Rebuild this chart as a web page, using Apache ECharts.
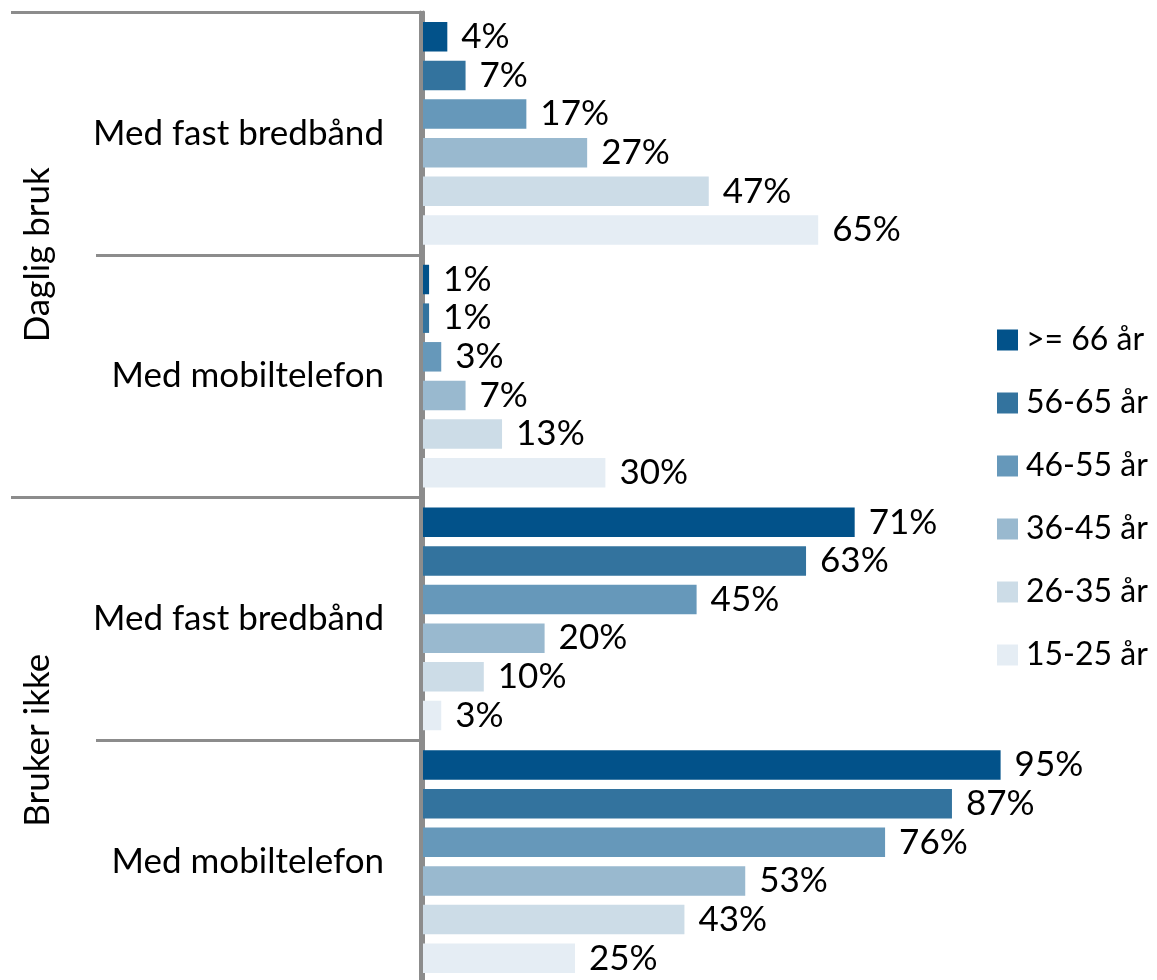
<!DOCTYPE html>
<html>
<head>
<meta charset="utf-8">
<script src="https://cdn.jsdelivr.net/npm/echarts@6/dist/echarts.min.js"></script>
<style>
  html, body { margin: 0; padding: 0; background: #fff; }
  #chart { width: 1157px; height: 980px; }
</style>
</head>
<body>
<div id="chart"></div>
<script>
// inner and outer category labels (top to bottom)
const subCategories = ['Med fast bredbånd', 'Med mobiltelefon', 'Med fast bredbånd', 'Med mobiltelefon']
const groups = ['Daglig bruk', 'Bruker ikke']

// age groups, legend order
const ageGroups = ['>= 66 år', '56-65 år', '46-55 år', '36-45 år', '26-35 år', '15-25 år']
const colors = ['#02528a', '#33739e', '#6698ba', '#99b9cf', '#ccdce7', '#e5edf4']

// percentages per age group, one value per sub category
const age66 = [4, 1, 71, 95]
const age56 = [7, 1, 63, 87]
const age46 = [17, 3, 45, 76]
const age36 = [27, 7, 20, 53]
const age26 = [47, 13, 10, 43]
const age15 = [65, 30, 3, 25]
const values = [age66, age56, age46, age36, age26, age15]

const font = 'Lato'
const fontSize = 35
const lineColor = '#8c8c8c'

let chart = echarts.init(document.getElementById('chart'))

chart.setOption({
  animation: false,
  textStyle: { fontFamily: font },
  grid: {
    left: 423,
    right: 126,
    top: 12,
    bottom: -3,
    outerBoundsMode: 'none',
    containLabel: false,
  },
  legend: {
    orient: 'vertical',
    left: 997,
    top: 324,
    padding: 0,
    itemWidth: 21,
    itemHeight: 21,
    itemGap: 31,
    icon: 'rect',
    data: ageGroups,
    textStyle: {
      fontFamily: font,
      fontSize: 32,
      color: '#000',
      lineHeight: 30,
      padding: [0, 0, 0, 3],
    },
  },
  xAxis: {
    type: 'value',
    min: 0,
    max: 100,
    show: false,
  },
  yAxis: [
    {
      type: 'category',
      data: subCategories,
      inverse: true,
      position: 'left',
      offset: 3,
      axisLine: { show: true, lineStyle: { color: lineColor, width: 3 } },
      axisTick: { show: true, length: 327, lineStyle: { color: lineColor, width: 3 } },
      axisLabel: {
        margin: 36,
        fontFamily: font,
        fontSize: fontSize,
        color: '#000',
      },
    },
    {
      type: 'category',
      data: groups,
      inverse: true,
      position: 'left',
      offset: 3,
      axisLine: { show: true, lineStyle: { color: lineColor, width: 3 } },
      axisTick: { show: true, length: 409, lineStyle: { color: lineColor, width: 3 } },
      axisLabel: {
        margin: 365,
        rotate: 90,
        fontFamily: font,
        fontSize: fontSize,
        color: '#000',
      },
    },
  ],
  series: ageGroups.map((name, i) => ({
    name: name,
    type: 'bar',
    data: values[i],
    barWidth: 29.5,
    barGap: '31%',
    itemStyle: { color: colors[i] },
    label: {
      show: true,
      position: 'right',
      distance: 14,
      formatter: '{c}%',
      fontFamily: font,
      fontSize: fontSize,
      color: '#000',
    },
  })),
})
</script>
</body>
</html>
